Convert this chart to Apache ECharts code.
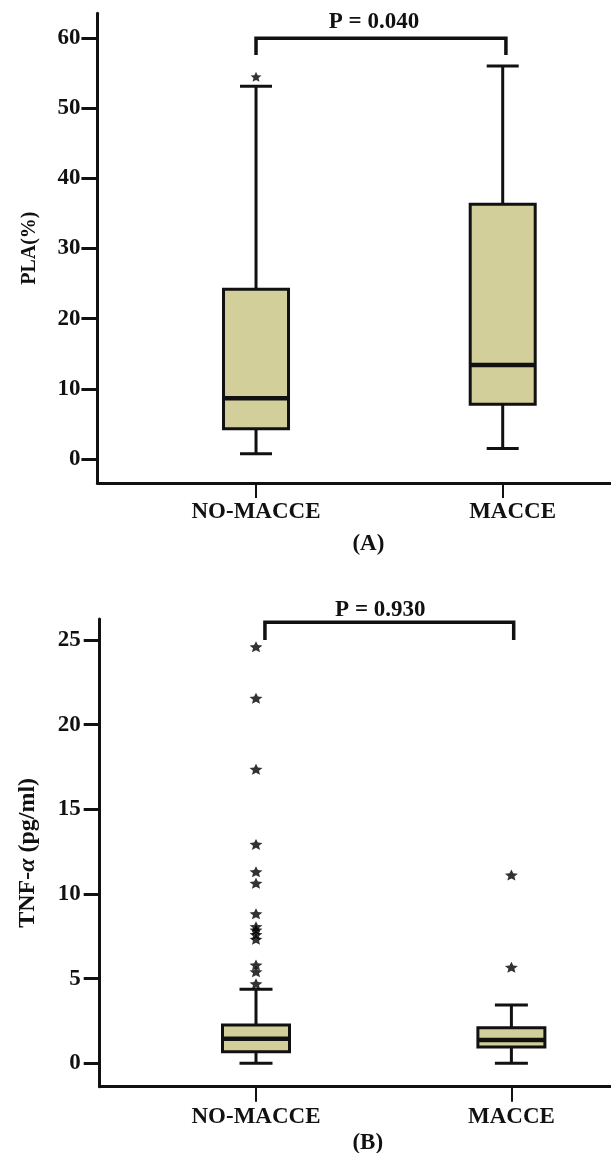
<!DOCTYPE html>
<html>
<head>
<meta charset="utf-8">
<script src="https://cdn.jsdelivr.net/npm/echarts@6/dist/echarts.min.js"></script>
<style>
html,body{margin:0;padding:0;background:#fff;}
#chart{width:611px;height:1153px;}
</style>
</head>
<body>
<div id="chart"></div>
<script>
// ---- data ----
const categories = ['NO-MACCE', 'MACCE'];

// Panel A: PLA(%)
const plaMin    = [0.75, 1.5];
const plaQ1     = [4.3, 7.8];
const plaMedian = [8.65, 13.4];
const plaQ3     = [24.2, 36.3];
const plaMax    = [53.1, 56.0];
const plaOutliers = [[1, 54.45]];
const plaTicks  = [0, 10, 20, 30, 40, 50, 60];
const plaP      = 'P = 0.040';
const plaBracket = [[1.0, 2.013, 59.93, 57.55]];

// Panel B: TNF-α (pg/ml)
const tnfMin    = [0.0, 0.0];
const tnfQ1     = [0.69, 0.97];
const tnfMedian = [1.45, 1.38];
const tnfQ3     = [2.26, 2.1];
const tnfMax    = [4.37, 3.44];
const tnfOutliersNo = [24.6, 21.56, 17.37, 12.93, 11.31, 10.63, 8.83, 8.07, 7.87, 7.6, 7.33, 5.8, 5.41, 4.7];
const tnfOutliersMacce = [11.12, 5.67];
const tnfTicks  = [0, 5, 10, 15, 20, 25];
const tnfP      = 'P = 0.930';
const tnfBracket = [[1.035, 2.009, 26.05, 25.0]];

// ---- style ----
const FONT = "'Liberation Serif', 'Times New Roman', serif";
const INK = '#111';
const FILL = '#d3cf9b';
const STAR = 'path://M50,0 L64,31 L98,35 L72,58 L80,92 L50,75 L20,92 L28,58 L2,35 L36,31 Z';

function boxRender(boxW, capW) {
  return function (params, api) {
    const x = api.value(0);
    const pMin = api.coord([x, api.value(1)]);
    const pQ1 = api.coord([x, api.value(2)]);
    const pMed = api.coord([x, api.value(3)]);
    const pQ3 = api.coord([x, api.value(4)]);
    const pMax = api.coord([x, api.value(5)]);
    const cx = pMin[0];
    const ln = { stroke: INK, lineWidth: 3 };
    return {
      type: 'group',
      children: [
        { type: 'line', shape: { x1: cx, y1: pQ1[1], x2: cx, y2: pMin[1] }, style: ln },
        { type: 'line', shape: { x1: cx, y1: pQ3[1], x2: cx, y2: pMax[1] }, style: ln },
        { type: 'line', shape: { x1: cx - capW / 2, y1: pMin[1], x2: cx + capW / 2, y2: pMin[1] }, style: ln },
        { type: 'line', shape: { x1: cx - capW / 2, y1: pMax[1], x2: cx + capW / 2, y2: pMax[1] }, style: ln },
        { type: 'rect', shape: { x: cx - boxW / 2, y: pQ3[1], width: boxW, height: pQ1[1] - pQ3[1] },
          style: { fill: FILL, stroke: INK, lineWidth: 3 } },
        { type: 'line', shape: { x1: cx - boxW / 2, y1: pMed[1], x2: cx + boxW / 2, y2: pMed[1] },
          style: { stroke: INK, lineWidth: 4.5 } }
      ]
    };
  };
}

function bracketRender(label, textGap, textDx) {
  return function (params, api) {
    const a = api.coord([api.value(0), api.value(2)]);
    const b = api.coord([api.value(1), api.value(2)]);
    const fa = api.coord([api.value(0), api.value(3)]);
    const fb = api.coord([api.value(1), api.value(3)]);
    return {
      type: 'group',
      children: [
        { type: 'polyline', shape: { points: [[fa[0], fa[1]], [a[0], a[1]], [b[0], b[1]], [fb[0], fb[1]]] },
          style: { stroke: INK, lineWidth: 3.5, fill: null } },
        { type: 'text', style: { text: label, x: (a[0] + b[0]) / 2 + textDx, y: a[1] - textGap,
          align: 'center', verticalAlign: 'bottom', fontFamily: FONT, fontWeight: 'bold', fontSize: 23, fill: INK } }
      ]
    };
  };
}

function boxData(mn, q1, md, q3, mx) {
  return categories.map((c, i) => [i + 1, mn[i], q1[i], md[i], q3[i], mx[i]]);
}

function xAxisDef(gridIndex, min, max, labelVals, margin) {
  return {
    type: 'value', gridIndex, min, max,
    splitLine: { show: false },
    axisLine: { show: true, onZero: false, lineStyle: { color: INK, width: 3 } },
    axisTick: { show: true, customValues: [1, 2], length: 15, lineStyle: { color: INK, width: 2 } },
    axisLabel: {
      customValues: labelVals, margin,
      formatter: v => categories[Math.round(v) - 1] || '',
      color: INK, fontFamily: FONT, fontWeight: 'bold', fontSize: 23
    }
  };
}

function yAxisDef(gridIndex, min, max, ticks, margin, name, nameGap, nameStyle) {
  return {
    type: 'value', gridIndex, min, max,
    splitLine: { show: false },
    axisLine: { show: true, onZero: false, lineStyle: { color: INK, width: 3 } },
    axisTick: { show: true, customValues: ticks, length: 16, lineStyle: { color: INK, width: 3 } },
    axisLabel: { customValues: ticks, margin, color: INK, fontFamily: FONT, fontWeight: 'bold', fontSize: 23 },
    name, nameLocation: 'middle', nameGap, nameTextStyle: nameStyle
  };
}

const chart = echarts.init(document.getElementById('chart'), null, { renderer: 'canvas' });
chart.setOption({
  animation: false,
  backgroundColor: '#fff',
  grid: [
    { left: 97.4, top: 13.3, width: 513.6, height: 469.7 },
    { left: 99.7, top: 619, width: 511.3, height: 467.7 }
  ],
  xAxis: [
    xAxisDef(0, 0.357, 2.439, [1, 2.04], 18),
    xAxisDef(1, 0.388, 2.39, [1, 2], 19)
  ],
  yAxis: [
    yAxisDef(0, -3.42, 63.5, plaTicks, 17, 'PLA(%)', 58,
      { color: INK, fontFamily: FONT, fontWeight: 'bold', fontSize: 20 }),
    yAxisDef(1, -1.38, 26.24, tnfTicks, 19, '{a|TNF-}{i|α}{a| (pg/ml)}', 60,
      { color: INK, fontFamily: FONT, fontWeight: 'bold', fontSize: 24,
        rich: {
          a: { fontFamily: FONT, fontWeight: 'bold', fontSize: 24, color: INK },
          i: { fontFamily: FONT, fontWeight: 'bold', fontStyle: 'italic', fontSize: 24, color: INK }
        } })
  ],
  graphic: [
    { type: 'text', left: 369.4 - 17, top: 545 - 12, style: { text: '(A)', fontFamily: FONT, fontWeight: 'bold', fontSize: 23, fill: INK } },
    { type: 'text', left: 369.4 - 17, top: 1143 - 11, style: { text: '(B)', fontFamily: FONT, fontWeight: 'bold', fontSize: 23, fill: INK } }
  ],
  series: [
    { type: 'custom', xAxisIndex: 0, yAxisIndex: 0, silent: true,
      data: boxData(plaMin, plaQ1, plaMedian, plaQ3, plaMax), renderItem: boxRender(65, 32) },
    { type: 'scatter', xAxisIndex: 0, yAxisIndex: 0, silent: true, symbol: STAR, symbolSize: [11, 10],
      itemStyle: { color: '#000' }, data: plaOutliers },
    { type: 'custom', xAxisIndex: 0, yAxisIndex: 0, silent: true,
      data: plaBracket, renderItem: bracketRender(plaP, 5, -7) },

    { type: 'custom', xAxisIndex: 1, yAxisIndex: 1, silent: true,
      data: boxData(tnfMin, tnfQ1, tnfMedian, tnfQ3, tnfMax), renderItem: boxRender(67, 33) },
    { type: 'scatter', xAxisIndex: 1, yAxisIndex: 1, silent: true, symbol: STAR, symbolSize: [13, 11],
      itemStyle: { color: '#000' },
      data: tnfOutliersNo.map(v => [1, v]).concat(tnfOutliersMacce.map(v => [2, v])) },
    { type: 'custom', xAxisIndex: 1, yAxisIndex: 1, silent: true,
      data: tnfBracket, renderItem: bracketRender(tnfP, 1, -9) }
  ]
});
</script>
</body>
</html>
